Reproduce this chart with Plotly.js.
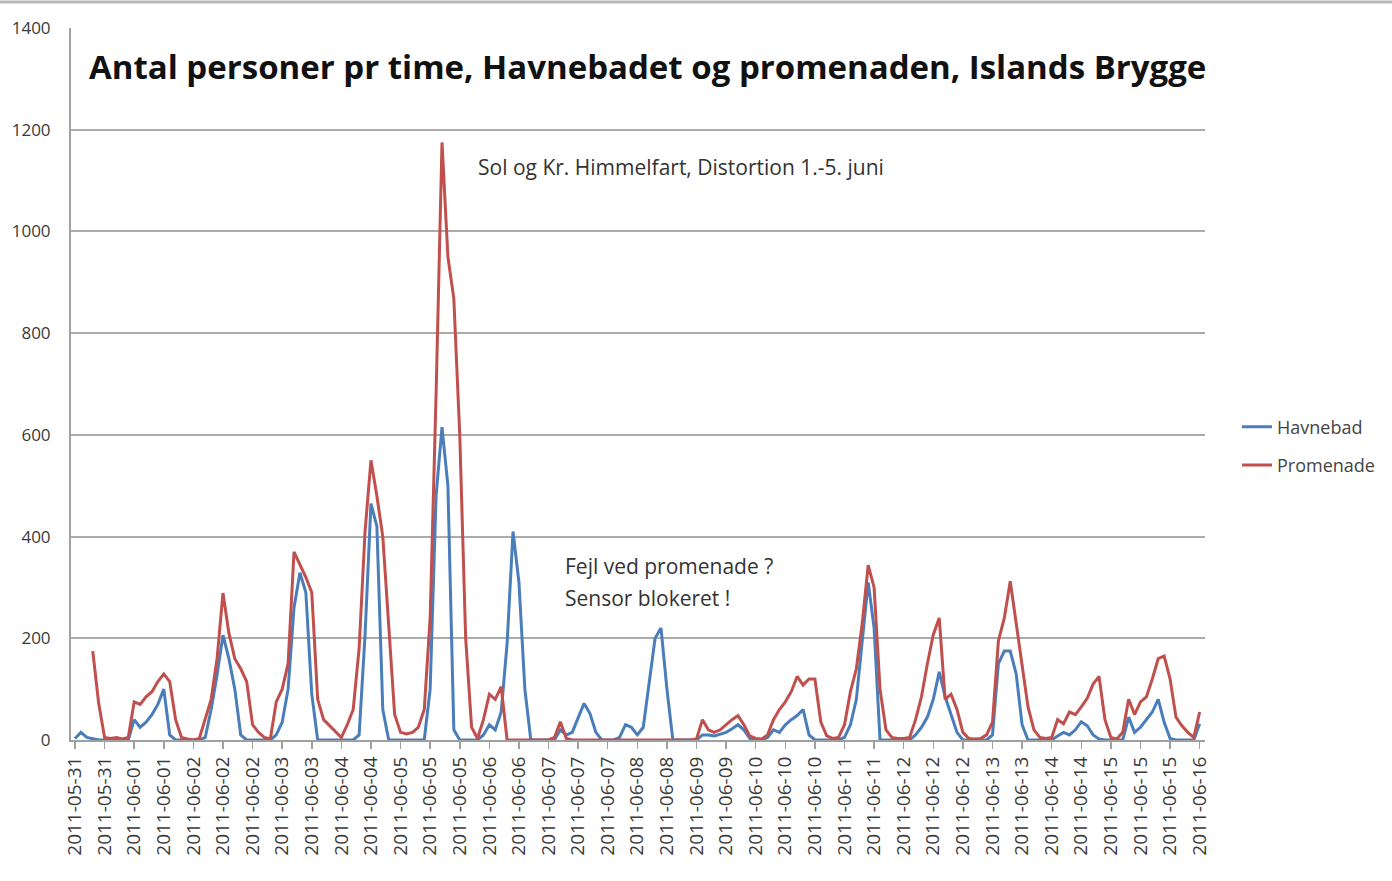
<!DOCTYPE html>
<html>
<head>
<meta charset="utf-8">
<script src="https://cdn.plot.ly/plotly-3.0.1.min.js"></script>
<style>html,body{margin:0;padding:0;background:#fff;}#chart{width:1392px;height:881px;}</style>
</head>
<body>
<div id="chart"></div>
<script>
// Hourly counts sampled every 2 hours, starting at the first "2011-05-31" label
const stepHours = 2;
const tickLabels = ["2011-05-31","2011-05-31","2011-06-01","2011-06-01","2011-06-02","2011-06-02","2011-06-02","2011-06-03","2011-06-03","2011-06-04","2011-06-04","2011-06-05","2011-06-05","2011-06-05","2011-06-06","2011-06-06","2011-06-07","2011-06-07","2011-06-07","2011-06-08","2011-06-08","2011-06-09","2011-06-09","2011-06-10","2011-06-10","2011-06-10","2011-06-11","2011-06-11","2011-06-12","2011-06-12","2011-06-12","2011-06-13","2011-06-13","2011-06-14","2011-06-14","2011-06-15","2011-06-15","2011-06-15","2011-06-16"];
const tickEveryHours = 10;

const havnebad = [
  3, 15, 5, 2, 0, 0, 0, 0, 0, 0,
  40, 25, 35, 50, 70, 100, 10, 0, 0, 0,
  0, 0, 5, 60, 128, 206, 160, 100, 10, 0,
  0, 0, 0, 0, 10, 35, 100, 260, 329, 290,
  90, 0, 0, 0, 0, 0, 0, 0, 10, 206,
  465, 420, 60, 0, 0, 0, 0, 0, 0, 0,
  100, 480, 615, 500, 20, 0, 0, 0, 0, 10,
  30, 20, 55, 190, 410, 310, 100, 0, 0, 0,
  0, 0, 20, 10, 15, 45, 72, 52, 15, 0,
  0, 0, 5, 30, 25, 10, 25, 110, 200, 220,
  100, 0, 0, 0, 0, 0, 10, 10, 8, 12,
  15, 22, 30, 20, 3, 0, 0, 5, 20, 15,
  30, 40, 48, 60, 10, 0, 0, 0, 0, 0,
  5, 30, 80, 200, 310, 220, 0, 0, 0, 0,
  0, 0, 10, 25, 45, 80, 134, 85, 50, 15,
  0, 0, 0, 0, 0, 10, 150, 175, 175, 130,
  30, 0, 0, 0, 0, 0, 8, 15, 10, 20,
  36, 28, 10, 2, 0, 0, 0, 0, 45, 15,
  25, 40, 55, 80, 35, 3, 0, 0, 0, 0,
  32
];

const promenade = [
  null, null, null, 175, 72, 5, 3, 5, 2, 5,
  75, 70, 85, 95, 115, 130, 115, 40, 5, 2,
  0, 3, 40, 80, 160, 289, 210, 160, 140, 115,
  30, 15, 5, 2, 75, 100, 150, 370, 345, 320,
  290, 80, 40, 28, 15, 5, 30, 60, 180, 410,
  550, 480, 400, 220, 50, 15, 12, 15, 25, 60,
  240, 680, 1175, 950, 868, 600, 200, 25, 3, 40,
  90, 80, 105, 0, 0, 0, 0, 0, 0, 0,
  0, 5, 36, 3, 0, 0, 0, 0, 0, 0,
  0, 0, 0, 0, 0, 0, 0, 0, 0, 0,
  0, 0, 0, 0, 0, 2, 40, 20, 15, 20,
  30, 40, 48, 30, 8, 3, 2, 10, 40, 60,
  75, 95, 125, 108, 120, 120, 35, 8, 3, 5,
  30, 95, 140, 230, 344, 300, 100, 20, 5, 3,
  3, 5, 40, 85, 150, 207, 240, 80, 90, 60,
  15, 3, 2, 3, 10, 35, 195, 240, 312, 230,
  142, 65, 20, 5, 3, 5, 40, 32, 55, 50,
  65, 82, 110, 125, 40, 5, 2, 15, 80, 50,
  75, 85, 120, 160, 165, 120, 45, 28, 15, 5,
  55
];

const seriesNames = ["Havnebad", "Promenade"];
const titleText = "Antal personer pr time, Havnebadet og promenaden, Islands Brygge";
const note1 = "Sol og Kr. Himmelfart, Distortion 1.-5. juni";
const note2a = "Fejl ved promenade ?";
const note2b = "Sensor blokeret !";

const xs = havnebad.map((_, i) => i * stepHours);
const tickVals = tickLabels.map((_, i) => i * tickEveryHours);

const FONT = "Open Sans, Noto Sans, sans-serif";

const traces = [
  {x: xs, y: havnebad, name: seriesNames[0], type: "scatter", mode: "lines",
   line: {color: "#4a7ebb", width: 3}, legendgroup: "a"},
  {x: xs, y: promenade, name: seriesNames[1], type: "scatter", mode: "lines",
   line: {color: "#c0504d", width: 3}, legendgroup: "b", connectgaps: false}
];

const layout = {
  width: 1392, height: 881,
  margin: {l: 71, r: 187, t: 28, b: 141},
  paper_bgcolor: "#ffffff", plot_bgcolor: "#ffffff",
  font: {family: FONT, color: "#333333"},
  title: {text: "<b>" + titleText + "</b>", font: {family: FONT, size: 33, color: "#111111"},
          x: 89/1392, xanchor: "left", xref: "container",
          y: 1 - 67/881, yanchor: "middle", yref: "container"},
  xaxis: {
    range: [-1.35, 381.8], tickmode: "array", tickvals: tickVals, ticktext: tickLabels,
    tickangle: -90, tickfont: {size: 19, color: "#3a3a3a", family: FONT},
    showgrid: false, zeroline: false, showline: true, linecolor: "#a0a0a0", linewidth: 2,
    ticks: "outside", ticklen: 7, tickcolor: "#a0a0a0", tickwidth: 1.5, fixedrange: true
  },
  yaxis: {
    range: [0, 1400], tickmode: "linear", tick0: 0, dtick: 200,
    tickfont: {size: 17, color: "#3a3a3a", family: FONT},
    showgrid: true, gridcolor: "#ababab", gridwidth: 2, zeroline: false,
    showline: true, linecolor: "#a0a0a0", linewidth: 2,
    ticks: "outside", ticklen: 15, tickcolor: "rgba(0,0,0,0)", fixedrange: true
  },
  legend: {xref: "container", x: 1237/1392, xanchor: "left", y: 0.413, yanchor: "middle",
           font: {size: 18, color: "#444444", family: FONT},
           traceorder: "grouped", tracegroupgap: 12, bgcolor: "rgba(0,0,0,0)"},
  showlegend: true,
  annotations: [
    {text: note1, xref: "paper", yref: "paper", x: (476-71)/1134, y: (740-167)/712,
     xanchor: "left", yanchor: "middle", showarrow: false, font: {size: 21, color: "#333333", family: FONT}},
    {text: note2a, xref: "paper", yref: "paper", x: (563-71)/1134, y: (740-566)/712,
     xanchor: "left", yanchor: "middle", showarrow: false, font: {size: 21, color: "#333333", family: FONT}},
    {text: note2b, xref: "paper", yref: "paper", x: (563-71)/1134, y: (740-598)/712,
     xanchor: "left", yanchor: "middle", showarrow: false, font: {size: 21, color: "#333333", family: FONT}}
  ],
  shapes: [
    {type: "line", xref: "paper", yref: "paper", x0: -71/1134, x1: (1392-71)/1134,
     y0: (740-2)/712, y1: (740-2)/712, line: {color: "#b8b8b8", width: 3}}
  ]
};

Plotly.newPlot("chart", traces, layout, {displayModeBar: false, staticPlot: true});
</script>
</body>
</html>
